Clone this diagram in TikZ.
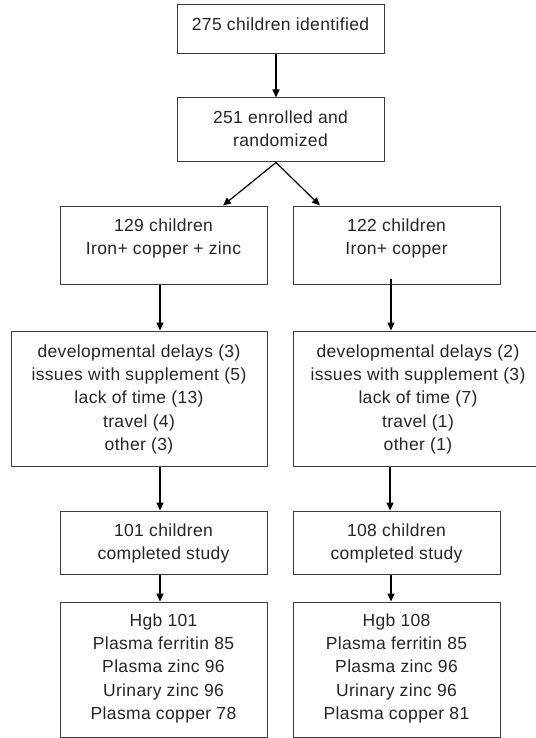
\documentclass[tikz,border=0pt]{standalone}
\usepackage{fontspec}
\setmainfont{Liberation Sans}[LetterSpace=2]
\usetikzlibrary{arrows.meta}
\definecolor{boxgray}{RGB}{60,60,60}
\begin{document}
\begin{tikzpicture}[x=1pt,y=-1pt,
  box/.style={draw=boxgray, line width=1pt, rectangle, inner sep=0pt},
  txt/.style={align=center, inner sep=0pt, anchor=north, font=\fontsize{17.5}{23.3}\selectfont, text=black!85},
  arr/.style={-{Triangle[length=8pt,width=7pt]}, line width=1.2pt, black}]
\fill[white] (0,0) rectangle (535,738);
\useasboundingbox (0,0) rectangle (535,738);
% boxes
\node[box, minimum width=207pt, minimum height=49pt] (b1) at (280.5,29.5) {};
\node[box, minimum width=207pt, minimum height=64pt] (b2) at (280.5,130) {};
\node[box, minimum width=207pt, minimum height=78pt] (b3L) at (163.5,245) {};
\node[box, minimum width=207pt, minimum height=78pt] (b3R) at (396.5,245) {};
\node[box, minimum width=256pt, minimum height=135pt] (b4L) at (139,398.5) {};
\node[box, minimum width=250pt, minimum height=135pt] (b4R) at (418,398.5) {};
\node[box, minimum width=207pt, minimum height=63pt] (b5L) at (163.5,542.5) {};
\node[box, minimum width=207pt, minimum height=63pt] (b5R) at (396.5,542.5) {};
\node[box, minimum width=207pt, minimum height=135pt] (b6L) at (163.5,669.5) {};
\node[box, minimum width=207pt, minimum height=135pt] (b6R) at (396.5,669.5) {};
% texts
\node[txt] (t1) at (280.5,17) {\rule{0pt}{13pt}275 children identified};
\node[txt] (t2) at (280.5,110) {\rule{0pt}{13pt}251 enrolled and\\randomized};
\node[txt] (t3L) at (163.5,218) {\rule{0pt}{13pt}129 children\\Iron+ copper + zinc};
\node[txt] (t3R) at (396.5,218) {\rule{0pt}{13pt}122 children\\Iron+ copper};
\node[txt] (t4L) at (139,344) {\rule{0pt}{13pt}developmental delays (3)\\issues with supplement (5)\\lack of time (13)\\travel (4)\\other (3)};
\node[txt] (t4R) at (418,344) {\rule{0pt}{13pt}developmental delays (2)\\issues with supplement (3)\\lack of time (7)\\travel (1)\\other (1)};
\node[txt] (t5L) at (163.5,523) {\rule{0pt}{13pt}101 children\\completed study};
\node[txt] (t5R) at (396.5,523) {\rule{0pt}{13pt}108 children\\completed study};
\node[txt] (t6L) at (163.5,613) {\rule{0pt}{13pt}Hgb 101\\Plasma ferritin 85\\Plasma zinc 96\\Urinary zinc 96\\Plasma copper 78};
\node[txt] (t6R) at (396.5,613) {\rule{0pt}{13pt}Hgb 108\\Plasma ferritin 85\\Plasma zinc 96\\Urinary zinc 96\\Plasma copper 81};
% arrows
\draw[arr] ([xshift=-4.5pt]b1.south) -- ([xshift=-4.5pt]b2.north);
\draw[arr] ([xshift=-4.5pt]b2.south) -- ([xshift=59.5pt]b3L.north);
\draw[arr] ([xshift=-4.5pt]b2.south) -- ([xshift=-76.5pt]b3R.north);
\draw[arr] ([xshift=-3.5pt]b3L.south) -- ([xshift=21pt]b4L.north);
\draw[arr] ([xshift=-5.5pt,yshift=6pt]b3R.south) -- ([xshift=-27pt]b4R.north);
\draw[arr] ([xshift=21pt]b4L.south) -- ([xshift=-3.5pt]b5L.north);
\draw[arr] ([xshift=-28pt]b4R.south) -- ([xshift=-6.5pt]b5R.north);
\draw[arr] ([xshift=-3.5pt]b5L.south) -- ([xshift=-3.5pt]b6L.north);
\draw[arr] ([xshift=-5.5pt]b5R.south) -- ([xshift=-5.5pt]b6R.north);
\end{tikzpicture}
\end{document}
